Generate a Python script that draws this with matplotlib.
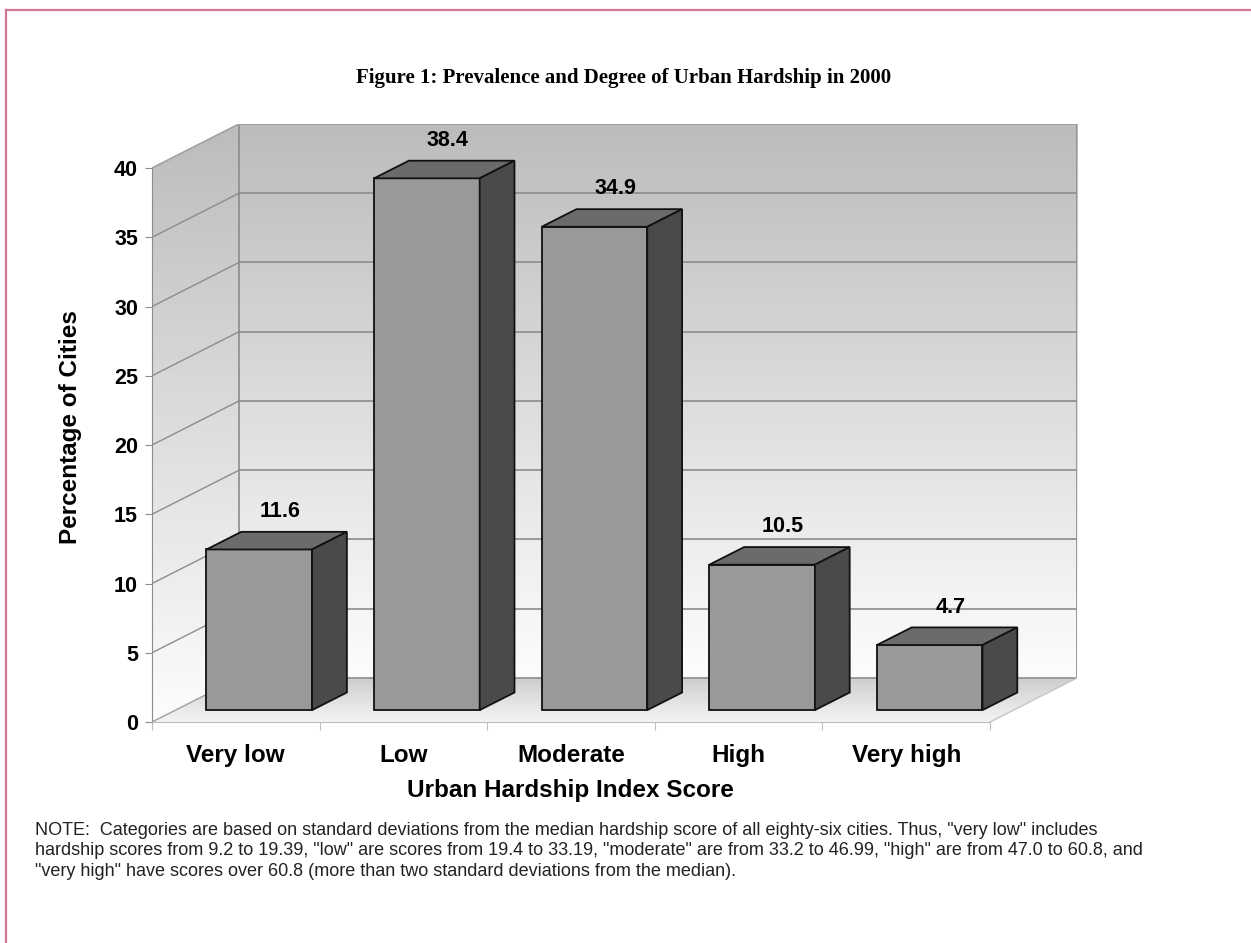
import numpy as np
import matplotlib.pyplot as plt
from matplotlib.patches import Polygon
from matplotlib.lines import Line2D
from matplotlib.colors import LinearSegmentedColormap

categories = ["Very low", "Low", "Moderate", "High", "Very high"]
percent_cities = [11.6, 38.4, 34.9, 10.5, 4.7]
y_ticks = [0, 5, 10, 15, 20, 25, 30, 35, 40]

title = "Figure 1: Prevalence and Degree of Urban Hardship in 2000"
note = ("NOTE:  Categories are based on standard deviations from the median hardship score of all eighty-six cities. "
        "Thus, \"very low\" includes\n"
        "hardship scores from 9.2 to 19.39, \"low\" are scores from 19.4 to 33.19, \"moderate\" are from 33.2 to 46.99, "
        "\"high\" are from 47.0 to 60.8, and\n"
        "\"very high\" have scores over 60.8 (more than two standard deviations from the median).")

# fake 3-D: offset of the back wall, in data units
DX = 0.519
DY = 3.18
YMAX = 40
BAR_W = 0.63
D_FRONT = 0.27
D_BACK = 0.67

plt.rcParams['font.family'] = ['Liberation Sans', 'DejaVu Sans']

fig = plt.figure(figsize=(12.51, 9.43), dpi=100)
ax = fig.add_axes([152 / 1251, 221 / 943, 925 / 1251, 598 / 943])
n = len(categories)
x0, x1 = -0.5, n - 0.5
ax.set_xlim(x0, x1 + DX)
ax.set_ylim(0, YMAX + DY)

grid_c = "#8c8c8c"
wall_cmap = LinearSegmentedColormap.from_list("wall", ["#fdfdfd", "#bcbcbc"])
floor_cmap = LinearSegmentedColormap.from_list("floor", ["#f4f4f4", "#cdcdcd"])
grad = np.linspace(0, 1, 256).reshape(-1, 1)

# back wall
ax.imshow(grad, cmap=wall_cmap, origin="lower", aspect="auto",
          extent=(x0 + DX, x1 + DX, DY, YMAX + DY), zorder=0)
# side wall
side = Polygon([(x0, 0), (x0 + DX, DY), (x0 + DX, YMAX + DY), (x0, YMAX)],
               closed=True, facecolor="none", edgecolor="none")
ax.add_patch(side)
im = ax.imshow(grad, cmap=wall_cmap, origin="lower", aspect="auto",
               extent=(x0, x0 + DX, 0, YMAX + DY), zorder=0)
im.set_clip_path(side)
# floor
floor = Polygon([(x0, 0), (x1, 0), (x1 + DX, DY), (x0 + DX, DY)],
                closed=True, facecolor="none", edgecolor="none")
ax.add_patch(floor)
im = ax.imshow(grad, cmap=floor_cmap, origin="lower", aspect="auto",
               extent=(x0, x1 + DX, 0, DY), zorder=0)
im.set_clip_path(floor)

# gridlines on back and side walls
for v in y_ticks[1:]:
    ax.plot([x0 + DX, x1 + DX], [v + DY, v + DY], color=grid_c, lw=1.2, zorder=1)
    ax.plot([x0, x0 + DX], [v, v + DY], color=grid_c, lw=1.0, zorder=1)

# wall outlines
ax.plot([x0 + DX, x0 + DX, x1 + DX, x1 + DX],
        [YMAX + DY, DY, DY, YMAX + DY], color=grid_c, lw=1.2, zorder=1)
ax.plot([x0, x0 + DX, x1 + DX], [YMAX, YMAX + DY, YMAX + DY], color="#a8a8a8", lw=1.0, zorder=1)
ax.plot([x0, x0 + DX], [0, DY], color="#a0a0a0", lw=1.0, zorder=1)
ax.plot([x1, x1 + DX], [0, DY], color="#c4c4c4", lw=1.0, zorder=1)

# bars
for i, v in enumerate(percent_cities):
    fx = D_FRONT * DX
    fy = D_FRONT * DY
    bx = (D_BACK - D_FRONT) * DX
    by = (D_BACK - D_FRONT) * DY
    left = i - BAR_W / 2 + fx
    right = i + BAR_W / 2 + fx
    bottom = fy
    top = v + fy
    front = Polygon([(left, bottom), (right, bottom), (right, top), (left, top)],
                    facecolor="#999999", edgecolor="#111111", lw=1.3, zorder=3)
    cap = Polygon([(left, top), (right, top), (right + bx, top + by), (left + bx, top + by)],
                  facecolor="#6b6b6b", edgecolor="#111111", lw=1.3, zorder=3)
    flank = Polygon([(right, bottom), (right + bx, bottom + by), (right + bx, top + by), (right, top)],
                    facecolor="#4a4a4a", edgecolor="#111111", lw=1.3, zorder=3)
    for p in (front, cap, flank):
        ax.add_patch(p)
    ax.text(i + (D_FRONT + D_BACK) / 2 * DX + 0.02, v + D_BACK * DY + 0.7, f"{v:.1f}",
            ha="center", va="bottom", fontsize=15.5, fontweight="bold", zorder=4)

# front axes
for s in ("top", "right"):
    ax.spines[s].set_visible(False)
ax.spines["left"].set_bounds(0, YMAX)
ax.spines["left"].set_color("#8c8c8c")
ax.spines["bottom"].set_bounds(x0, x1)
ax.spines["bottom"].set_color("#bdbdbd")
ax.set_yticks(y_ticks)
ax.set_yticklabels([str(t) for t in y_ticks], fontsize=15.5, fontweight="bold")
ax.tick_params(axis="y", length=5, color="#8c8c8c", pad=5)
ax.set_xticks(np.arange(n + 1) - 0.5)
ax.set_xticklabels([])
ax.tick_params(axis="x", which="major", length=6, color="#bdbdbd")
ax.set_xticks(np.arange(n), minor=True)
ax.set_xticklabels(categories, minor=True, fontsize=17.5, fontweight="bold")
ax.tick_params(axis="x", which="minor", length=0, pad=16)

fig.text(70 / 1251, 1 - 427 / 943, "Percentage of Cities", rotation=90,
         ha="center", va="center", fontsize=17.5, fontweight="bold")
fig.text(570 / 1251, 1 - 790 / 943, "Urban Hardship Index Score",
         ha="center", va="center", fontsize=17.5, fontweight="bold")
fig.text(624 / 1251, 1 - 78 / 943, title, ha="center", va="center",
         fontsize=15, fontweight="bold", family=["Liberation Serif", "DejaVu Serif"])
fig.text(35 / 1251, 1 - 822 / 943, note, ha="left", va="top",
         fontsize=13.0, color="#222222", linespacing=1.25)

# page frame
frame_c = "#d0759a"
fig.add_artist(Line2D([6 / 1251, 1], [1 - 10 / 943, 1 - 10 / 943],
                      transform=fig.transFigure, color=frame_c, lw=1.6))
fig.add_artist(Line2D([6 / 1251, 6 / 1251], [0, 1 - 10 / 943],
                      transform=fig.transFigure, color=frame_c, lw=1.6))

fig.savefig("out.png", dpi=100)
